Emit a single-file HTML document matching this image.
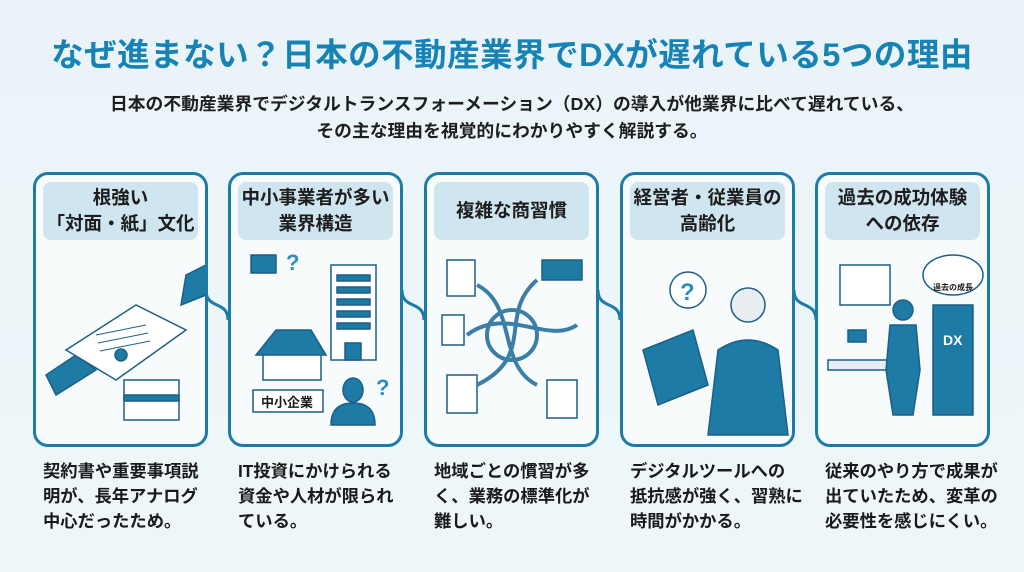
<!DOCTYPE html>
<html lang="ja"><head><meta charset="utf-8">
<style>
*{margin:0;padding:0;box-sizing:border-box}
body{width:1024px;height:572px;overflow:hidden;background:linear-gradient(180deg,#eaf4f8,#eef6f9);font-family:"Liberation Sans","Noto Sans CJK JP",sans-serif;position:relative}
h1{position:absolute;top:29px;left:0;width:1024px;text-align:center;font-size:32.5px;font-weight:bold;color:#1783b5;letter-spacing:0.5px}
.sub{position:absolute;left:0;width:1024px;text-align:center;font-size:17.8px;font-weight:bold;color:#1e1e1e}
.card{position:absolute;top:172px;width:175px;height:275px;border:3px solid #1d7ba6;border-radius:15px;background:#f7fbfc}
.hd{position:absolute;left:7px;top:7px;right:7px;height:58px;background:#cfe5f0;border-radius:8px;display:flex;align-items:center;justify-content:center;text-align:center;font-size:18.5px;font-weight:bold;color:#1d1d1d;line-height:26px}
.ill{position:absolute;left:0;top:70px;width:169px;height:195px}
.txt{position:absolute;top:459px;width:190px;font-size:17.3px;font-weight:bold;color:#1a1a1a;line-height:25px}
</style></head><body>
<h1>なぜ進まない？日本の不動産業界でDXが遅れている5つの理由</h1>
<div class="sub" style="top:90px">日本の不動産業界でデジタルトランスフォーメーション（DX）の導入が他業界に比べて遅れている、</div>
<div class="sub" style="top:117px">その主な理由を視覚的にわかりやすく解説する。</div>

<svg style="position:absolute;left:0;top:0" width="1024" height="572">
<g fill="none" stroke="#1d7ba6" stroke-width="3">
<path d="M206 290 C 206 310, 228 300, 228 320"/>
<path d="M402 290 C 402 310, 424 300, 424 320"/>
<path d="M598 290 C 598 310, 620 300, 620 320"/>
<path d="M794 290 C 794 310, 816 300, 816 320"/>
</g></svg>

<div class="card" style="left:33px"><div class="hd">根強い<br>「対面・紙」文化</div>
<svg class="ill" viewBox="0 0 169 195"><g stroke="#1d5f86" stroke-width="1.5">
<path d="M10 130 L40 110 L60 125 L20 150Z" fill="#1d7ba6"/>
<path d="M30 105 L100 60 L150 85 L80 135Z" fill="#fff"/>
<path d="M150 30 L170 20 L170 50 L145 60Z" fill="#1d7ba6"/>
<rect x="88" y="135" width="55" height="40" fill="#fff"/>
<rect x="88" y="150" width="55" height="6" fill="#1d7ba6"/>
<circle cx="85" cy="110" r="6" fill="#1d7ba6"/></g>
<g stroke="#1d5f86" stroke-width="1"><line x1="60" y1="90" x2="110" y2="80"/><line x1="62" y1="98" x2="112" y2="88"/><line x1="64" y1="106" x2="114" y2="96"/></g></svg></div>
<div class="txt" style="left:43px">契約書や重要事項説<br>明が、長年アナログ<br>中心だったため。</div>

<div class="card" style="left:228px"><div class="hd">中小事業者が多い<br>業界構造</div>
<svg class="ill" viewBox="0 0 169 195"><g stroke="#1d5f86" stroke-width="1.5">
<rect x="100" y="20" width="45" height="95" fill="#fff"/>
<g fill="#1d7ba6"><rect x="106" y="30" width="33" height="6"/><rect x="106" y="42" width="33" height="6"/><rect x="106" y="54" width="33" height="6"/><rect x="106" y="66" width="33" height="6"/><rect x="106" y="78" width="33" height="6"/><rect x="114" y="98" width="16" height="17"/></g>
<path d="M20 10 h25 v18 h-25z" fill="#1d7ba6"/>
<path d="M25 110 L45 85 L80 85 L95 110Z" fill="#1d7ba6"/>
<rect x="32" y="110" width="58" height="25" fill="#fff"/>
<rect x="22" y="145" width="70" height="22" fill="#fff"/>
<path d="M100 180 q0-22 22-22 q22 0 22 22z M112 145 a10 12 0 1 0 20 0 a10 12 0 1 0 -20 0" fill="#1d7ba6"/></g>
<text x="30" y="162" font-size="13" font-weight="bold" fill="#1a1a1a">中小企業</text>
<text x="55" y="25" font-size="22" font-weight="bold" fill="#2a8fc0">?</text>
<text x="145" y="150" font-size="22" font-weight="bold" fill="#2a8fc0">?</text></svg></div>
<div class="txt" style="left:238px">IT投資にかけられる<br>資金や人材が限られ<br>ている。</div>

<div class="card" style="left:424px"><div class="hd">複雑な商習慣</div>
<svg class="ill" viewBox="0 0 169 195"><g stroke="#1d5f86" stroke-width="1.5" fill="#fff">
<rect x="20" y="15" width="28" height="36"/><rect x="115" y="15" width="40" height="20" fill="#1d7ba6"/><rect x="15" y="70" width="22" height="30"/><rect x="20" y="130" width="30" height="38"/><rect x="120" y="135" width="30" height="38"/></g>
<g fill="none" stroke="#3c7fa6" stroke-width="4">
<path d="M50 40 C90 60 70 120 110 140"/><path d="M110 35 C70 70 110 110 50 140"/><path d="M40 90 C80 60 120 100 150 80"/><circle cx="85" cy="90" r="25"/></g></svg></div>
<div class="txt" style="left:434px">地域ごとの慣習が多<br>く、業務の標準化が<br>難しい。</div>

<div class="card" style="left:620px"><div class="hd">経営者・従業員の<br>高齢化</div>
<svg class="ill" viewBox="0 0 169 195"><g stroke="#1d5f86" stroke-width="1.5">
<circle cx="65" cy="45" r="18" fill="#fff"/>
<path d="M20 105 L70 85 L85 140 L35 160Z" fill="#1d7ba6"/>
<circle cx="125" cy="60" r="17" fill="#e8eef2"/>
<path d="M85 190 L95 105 Q125 85 155 105 L165 190Z" fill="#1d7ba6"/></g>
<text x="57" y="55" font-size="24" font-weight="bold" fill="#2a8fc0">?</text></svg></div>
<div class="txt" style="left:630px">デジタルツールへの<br>抵抗感が強く、習熟に<br>時間がかかる。</div>

<div class="card" style="left:815px"><div class="hd">過去の成功体験<br>への依存</div>
<svg class="ill" viewBox="0 0 169 195"><g stroke="#1d5f86" stroke-width="1.5">
<rect x="22" y="20" width="50" height="40" fill="#fff"/>
<ellipse cx="135" cy="30" rx="30" ry="20" fill="#fff"/>
<rect x="115" y="60" width="40" height="110" fill="#1d7ba6"/>
<rect x="10" y="115" width="70" height="10" fill="#e8eef2"/>
<circle cx="85" cy="65" r="10" fill="#1d7ba6"/>
<path d="M68 125 L72 80 L98 80 L102 125 L95 170 L75 170Z" fill="#1d7ba6"/>
<path d="M30 85 h18 v12 h-18z" fill="#1d7ba6"/></g>
<text x="125" y="100" font-size="14" font-weight="bold" fill="#fff">DX</text>
<text x="115" y="45" font-size="8" font-weight="bold" fill="#1a1a1a">過去の成長</text></svg></div>
<div class="txt" style="left:825px">従来のやり方で成果が<br>出ていたため、変革の<br>必要性を感じにくい。</div>
</body></html>
